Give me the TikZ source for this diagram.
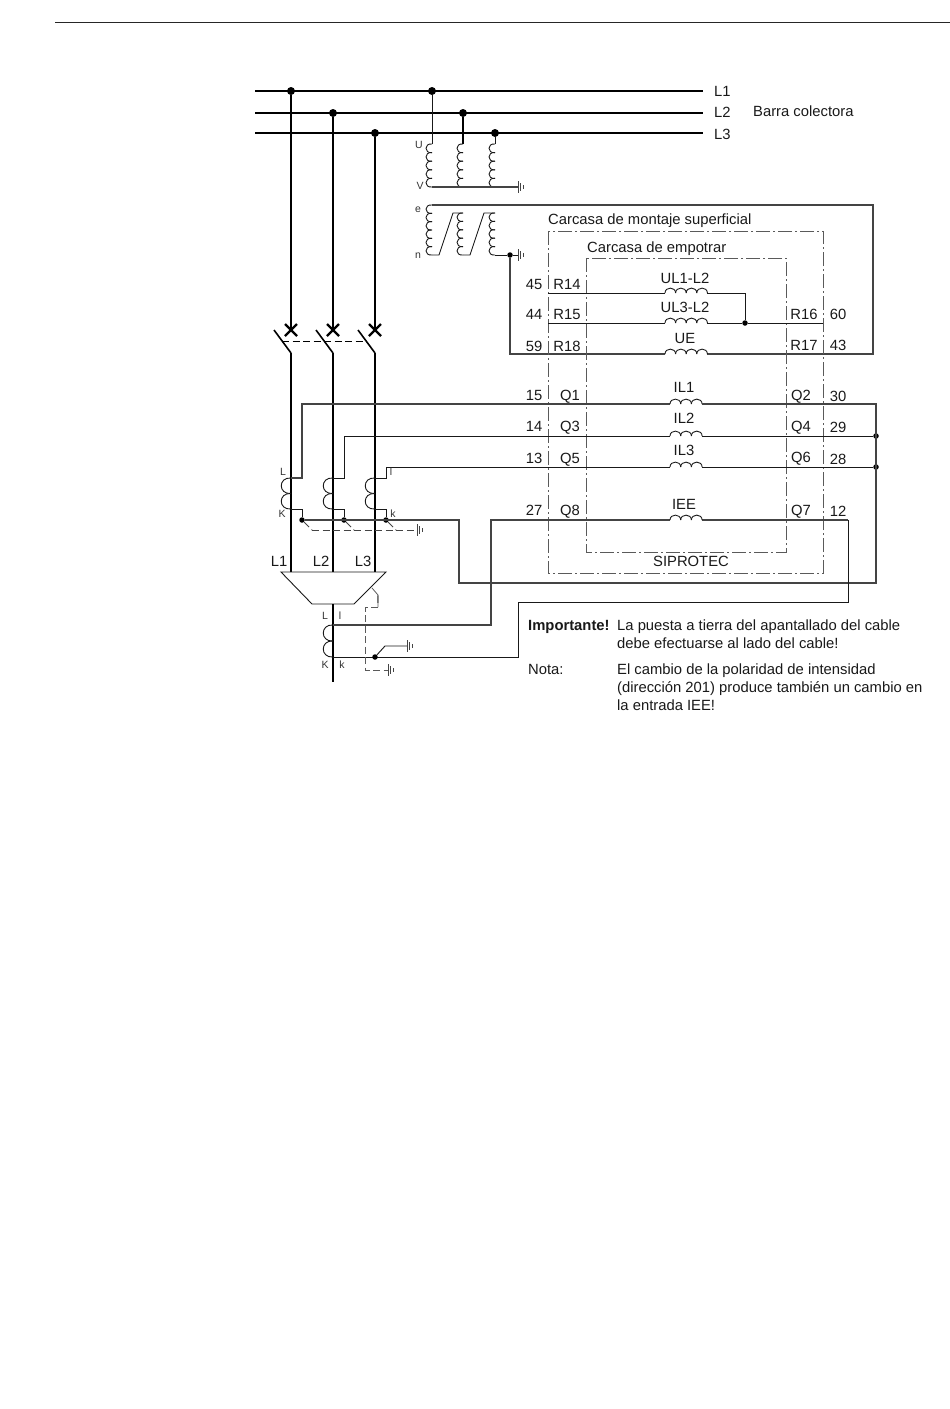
\documentclass[tikz,border=0pt]{standalone}
\usepackage{fontspec}
\setmainfont{Liberation Sans}
\newcommand{\HCoil}[5][wire]{\foreach \i in {1,...,#4}{\draw[#1] ({#2+(\i-1)*#5},#3) .. controls ({#2+(\i-1)*#5},#3-6.5) and ({#2+\i*#5},#3-6.5) .. ({#2+\i*#5},#3);}}
\newcommand{\VCoil}[6][wire]{\foreach \i in {1,...,#4}{\draw[#1] (#2,{#3+(\i-1)*#5}) .. controls (#2-#6,{#3+(\i-1)*#5-1}) and (#2-#6,{#3+\i*#5+1}) .. (#2,{#3+\i*#5});}}
\definecolor{wiregray}{HTML}{444444}
\definecolor{boxgray}{HTML}{5A5A5A}
\tikzset{
  bus/.style={line width=2.2pt,black},
  wire/.style={line width=0.9pt,black!90},
  gwire/.style={line width=1.05pt,wiregray},
  dashwire/.style={line width=0.9pt,wiregray,dash pattern=on 7pt off 3.5pt},
  housing/.style={line width=0.9pt,boxgray,dash pattern=on 14pt off 3pt on 2pt off 3pt},
  bigdot/.style={circle,fill=black,inner sep=0pt,minimum size=8pt},
  smalldot/.style={circle,fill=black,inner sep=0pt,minimum size=5.5pt},
  lbl/.style={inner sep=0pt,anchor=mid,yshift=-3pt,font=\fontsize{14.8}{17}\selectfont,text=black!90},
  lblw/.style={lbl,anchor=mid west},
  tiny/.style={lbl,yshift=2pt,font=\fontsize{10.5}{12}\selectfont,text=black!80},
  earth/.pic={\draw[line width=0.9pt,wiregray] (0,-6)--(0,6) (2.5,-4)--(2.5,4) (5,-2)--(5,2);}
}
\begin{document}
\begin{tikzpicture}[x=1pt,y=-1pt]
\useasboundingbox (0,0) rectangle (950,1409);
\draw[line width=1pt,black!85] (55,22)--(950,22);
% coordinates
\coordinate (b1w) at (255,91); \coordinate (b1e) at (703,91);
\coordinate (b2w) at (255,113); \coordinate (b2e) at (703,113);
\coordinate (b3w) at (255,133); \coordinate (b3e) at (703,133);
\foreach \n/\x/\y in {a/291/91,b/333/113,c/375/133,u/432/91,v/463/113,w/495/133}
  \node[bigdot] (d\n) at (\x,\y) {};
\draw[bus] (b1w)--(b1e); \draw[bus] (b2w)--(b2e); \draw[bus] (b3w)--(b3e);
% main feeders with breakers
\foreach \n/\x in {a/291,b/333,c/375}{
  \coordinate (x\n) at (\x,330);
  \coordinate (bs\n) at ({\x-17},330);
  \coordinate (be\n) at (\x,353);
  \coordinate (tf\n) at (\x,572);
  \draw[bus] (d\n)--(x\n);
  \draw[bus,line width=2.4pt] ({\x-6},324)--({\x+6},336) ({\x+6},324)--({\x-6},336);
  \draw[line width=1.6pt] (bs\n)--(be\n);
  \draw[bus] (be\n)--(tf\n);
}
\coordinate (bdl) at (282,341); \coordinate (bdr) at (367,341);
\draw[dashwire,black] (bdl)--(bdr);
% VT star
\coordinate (vu1) at (432,144); \coordinate (vv1) at (463,144); \coordinate (vw1) at (495,144);
\draw[wire] (du)--(vu1); \draw[line width=1.1pt] (dv)--(vv1); \draw[wire] (dw)--(vw1);
\VCoil{432}{144}{5}{8.6}{8}
\VCoil{463}{144}{5}{8.6}{8}
\VCoil{495}{144}{5}{8.6}{8}
\coordinate (vrl) at (432,187); \coordinate (vrr) at (518,187);
\draw[gwire] (vrl)--(vrr);
\pic at (vrr) {earth};
% open delta
\coordinate (e0) at (432,205); \coordinate (e1) at (873,205); \coordinate (e2) at (873,354);
\coordinate (ue1) at (707,354); \coordinate (ue0) at (665,354); \coordinate (e3) at (510,354);
\node[smalldot] (nd) at (510,255) {};
\draw[gwire] (e0)--(e1)--(e2)--(ue1);
\draw[gwire] (ue0)--(e3)--(nd);
\VCoil{432}{205}{6}{8.33}{8}
\VCoil{463}{213}{5}{8.4}{8}
\VCoil{495}{213}{5}{8.4}{8}
\draw[wire] (432,255)--(439,255)--(453,213)--(463,213);
\draw[wire] (463,255)--(470,255)--(484,213)--(495,213);
\coordinate (ne) at (518,255);
\draw[wire] (495,255)--(nd)--(ne);
\pic at (ne) {earth};
% housings
\draw[housing] (548,231) rectangle (823,573);
\draw[housing] (586,258) rectangle (786,552);
% voltage inputs
\coordinate (r14) at (548,293); \coordinate (r15) at (548,323); \coordinate (r16) at (823,323);
\node[smalldot] (jv) at (745,323) {};
\coordinate (jv1) at (745,293);
\draw[wire] (r14)--(665,293); \draw[wire] (707,293)--(jv1)--(jv);
\draw[wire] (r15)--(665,323); \draw[wire] (707,323)--(jv)--(r16);
\HCoil{665}{293}{4}{10.6}
\HCoil{665}{323}{4}{10.6}
\HCoil{665}{354}{4}{10.6}
% CT secondaries
\coordinate (c1) at (876,404); \node[smalldot] (c2) at (876,436) {}; \node[smalldot] (c3) at (876,467) {};
\coordinate (c4) at (876,583); \coordinate (c5) at (459,583); \coordinate (c6) at (459,520);
\foreach \n/\x/\y/\lw in {1/291/404/gwire,2/333/436/wire,3/375/467/wire}{
  \coordinate (ct\n) at (\x,478);
  \coordinate (cu\n) at ({\x+11},478);
  \coordinate (cv\n) at ({\x+11},\y);
  \coordinate (cl\n) at (670,\y);
  \coordinate (cm\n) at (702,\y);
  \coordinate (cb\n) at (\x,509);
  \coordinate (cc\n) at ({\x+11},509);
  \draw[\lw] (ct\n)--(cu\n)--(cv\n)--(cl\n);
  \VCoil{\x}{478}{2}{15.5}{13}
  \HCoil{670}{\y}{3}{10.7}
  \node[smalldot] (s\n) at ({\x+11},520) {};
  \draw[wire] (cb\n)--(cc\n)--(s\n);
  \coordinate (sd\n) at ({\x+21},530);
  \draw[dashwire] (s\n)--(sd\n);
}
\draw[gwire] (cm1)--(c1)--(c4)--(c5)--(c6)--(s1);
\draw[wire] (cm2)--(c2); \draw[wire] (cm3)--(c3);
\coordinate (ge) at (417,530);
\draw[dashwire] (sd1)--(ge);
\pic at (ge) {earth};
% summation trafo
\coordinate (t1) at (281,572); \coordinate (t2) at (386,572); \coordinate (t3) at (354,604); \coordinate (t4) at (312,604);
\draw[wire] (t1)--(t2)--(t3)--(t4)--cycle;
\coordinate (f1) at (333,604); \coordinate (f2) at (333,682);
\draw[bus] (f1)--(f2);
\VCoil{333}{625}{2}{16}{13}
% IEE loop
\coordinate (i1) at (333,625); \coordinate (i2) at (491,625); \coordinate (i3) at (491,520);
\coordinate (i4) at (848,520); \coordinate (i5) at (848,602); \coordinate (i6) at (518,602);
\coordinate (i7) at (518,657); \coordinate (i8) at (333,657);
\coordinate (icl) at (670,520); \coordinate (icr) at (702,520);
\draw[gwire] (i1)--(i2)--(i3)--(icl);
\draw[gwire] (icr)--(i4);
\draw[wire] (i4)--(i5)--(i6)--(i7)--(i8);
\HCoil{670}{520}{3}{10.7}
\node[smalldot] (kd) at (375,657) {};
\coordinate (k1) at (385,646); \coordinate (k2) at (407,646);
\draw[wire] (kd)--(k1)--(k2);
\pic at (k2) {earth};
% shield
\coordinate (h0) at (372,588); \coordinate (h1) at (378,595); \coordinate (h2) at (378,607); \coordinate (h3) at (365,607);
\coordinate (h4) at (365,670); \coordinate (h5) at (388,670);
\draw[line width=0.8pt,boxgray] (h0)--(h1)--(h2);
\draw[dashwire,boxgray] (h2)--(h3)--(h4)--(h5);
\pic at (h5) {earth};
% labels
\node[lblw] (tl1) at (714,91) {L1};
\node[lblw] (tl2) at (714,112) {L2};
\node[lblw] (tl3) at (714,134) {L3};
\node[lblw] (tbar) at (753,111) {Barra colectora};
\node[lblw] (tsup) at (548,219) {Carcasa de montaje superficial};
\node[lblw] (temp) at (587,247) {Carcasa de empotrar};
\foreach \t/\x/\y/\n in {
 45/534/284/a1,R14/567/284/a2,44/534/314/a3,R15/567/314/a4,59/534/346/a5,R18/567/346/a6,
 R16/804/314/a7,60/838/314/a8,R17/804/345/a9,43/838/345/a10,
 15/534/395/b1,Q1/570/395/b2,Q2/801/395/b3,30/838/396/b4,
 14/534/426/b5,Q3/570/426/b6,Q4/801/426/b7,29/838/427/b8,
 13/534/458/b9,Q5/570/458/b10,Q6/801/457/b11,28/838/459/b12,
 27/534/510/b13,Q8/570/510/b14,Q7/801/510/b15,12/838/511/b16,
 UL1-L2/685/278/c1,UL3-L2/685/307/c2,UE/685/338/c3,
 IL1/684/387/c4,IL2/684/418/c5,IL3/684/450/c6,IEE/684/504/c7,SIPROTEC/691/561/c8,
 L1/279/561/c9,L2/321/561/c10,L3/363/561/c11}
 \node[lbl] (t\n) at (\x,\y) {\t};
\foreach \t/\x/\y/\n in {U/419/145/s1,V/420/186/s2,e/418/209/s3,n/418/255/s4,
 L/283/472/s5,K/282/514/s6,l/391/472/s7,k/393/514/s8,
 L/325/616/s9,l/340/616/s10,K/325/665/s11,k/342/665/s12,l/378/600/s13}
 \node[tiny] (t\n) at (\x,\y) {\t};
\node[lblw,font=\fontsize{14.8}{17}\bfseries\selectfont] (timp) at (528,625) {Importante!};
\node[lblw] (tn1) at (617,625) {La puesta a tierra del apantallado del cable};
\node[lblw] (tn2) at (617,643) {debe efectuarse al lado del cable!};
\node[lblw] (tnota) at (528,669) {Nota:};
\node[lblw] (tn3) at (617,669) {El cambio de la polaridad de intensidad};
\node[lblw] (tn4) at (617,687) {(dirección 201) produce también un cambio en};
\node[lblw] (tn5) at (617,705) {la entrada IEE!};
\end{tikzpicture}
\end{document}
